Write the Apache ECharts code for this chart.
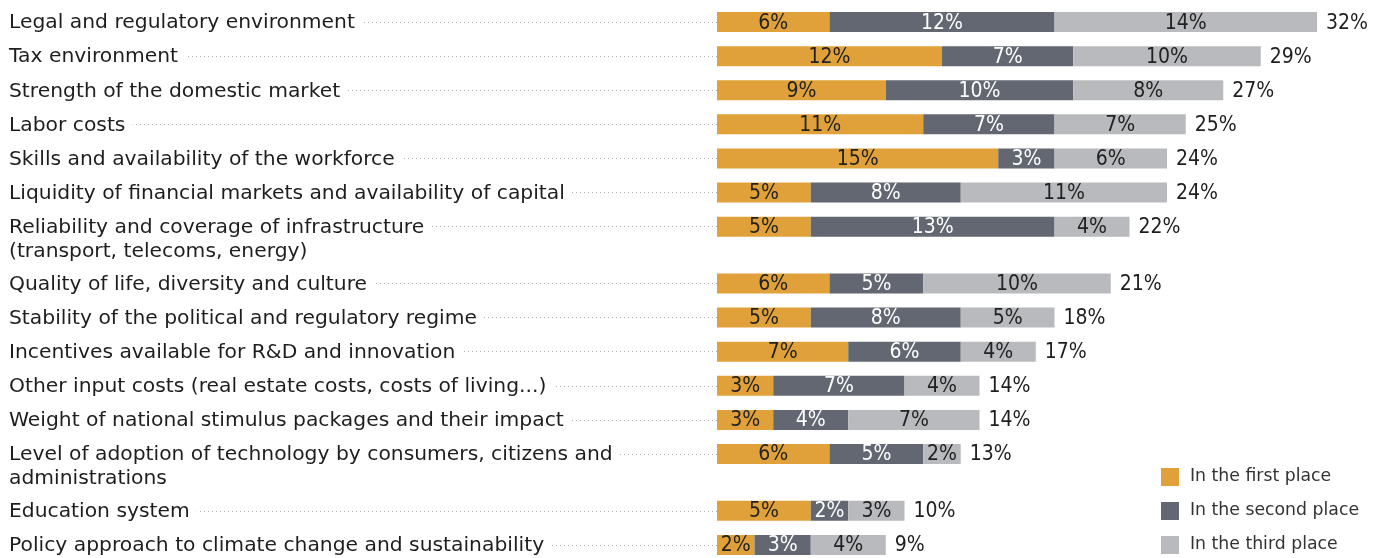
<!DOCTYPE html>
<html>
<head>
<meta charset="utf-8">
<script src="https://cdn.jsdelivr.net/npm/echarts@6/dist/echarts.min.js"></script>
<style>
html,body{margin:0;padding:0;background:#fff;}
#chart{width:1383px;height:558px;}
</style>
</head>
<body>
<div id="chart"></div>
<script>
const categories = [
  'Legal and regulatory environment',
  'Tax environment',
  'Strength of the domestic market',
  'Labor costs',
  'Skills and availability of the workforce',
  'Liquidity of financial markets and availability of capital',
  'Reliability and coverage of infrastructure\n(transport, telecoms, energy)',
  'Quality of life, diversity and culture',
  'Stability of the political and regulatory regime',
  'Incentives available for R&D and innovation',
  'Other input costs (real estate costs, costs of living...)',
  'Weight of national stimulus packages and their impact',
  'Level of adoption of technology by consumers, citizens and\nadministrations',
  'Education system',
  'Policy approach to climate change and sustainability'
];
const seriesNames = ['In the first place', 'In the second place', 'In the third place'];
const firstPlace  = [6, 12, 9, 11, 15, 5, 5, 6, 5, 7, 3, 3, 6, 5, 2];
const secondPlace = [12, 7, 10, 7, 3, 8, 13, 5, 8, 6, 7, 4, 5, 2, 3];
const thirdPlace  = [14, 10, 8, 7, 6, 11, 4, 10, 5, 4, 4, 7, 2, 3, 4];

// Layout slots: each row gets spacer slots around it; wrapped labels get extra room.
const slots = [];
const rowSlot = [];
categories.forEach((c, i) => {
  slots.push('_sp' + slots.length);
  rowSlot.push(slots.length);
  slots.push(c);
  slots.push('_sp' + slots.length);
  if (c.indexOf('\n') >= 0) {
    slots.push('_sp' + slots.length);
    slots.push('_sp' + slots.length);
  }
});
const realIdx = new Set(rowSlot);
function toSlots(arr) {
  const out = slots.map(() => '-');
  rowSlot.forEach((s, i) => { out[s] = arr[i]; });
  return out;
}
const totals = categories.map((c, i) => firstPlace[i] + secondPlace[i] + thirdPlace[i]);

const FONT = 'DejaVu Sans';
const NUMFONT = '"DejaVu Sans Condensed", "DejaVu Sans"';
const chart = echarts.init(document.getElementById('chart'));
function barSeries(name, data, color, labelColor) {
  return {
    name: name, type: 'bar', stack: 'total', barWidth: 20,
    data: toSlots(data),
    itemStyle: { color: color },
    label: { show: true, position: 'inside', formatter: '{c}%', color: labelColor, fontSize: 21, fontFamily: NUMFONT, offset: [0, 1] },
    emphasis: { disabled: true }
  };
}
chart.setOption({
  animation: false,
  textStyle: { fontFamily: FONT },
  grid: { left: 717, width: 600, top: 5, height: 557, outerBoundsMode: 'none', containLabel: false },
  legend: {
    data: seriesNames, orient: 'vertical', left: 1161, top: 468,
    itemWidth: 18, itemHeight: 18, itemGap: 16, icon: 'rect', padding: 0,
    textStyle: { fontSize: 17.3, color: '#333', fontFamily: FONT, padding: [0, 0, 0, 6] }
  },
  xAxis: { type: 'value', min: 0, max: 32, show: false },
  yAxis: {
    type: 'category', data: slots, inverse: true, offset: 5,
    axisLine: { show: false },
    axisTick: {
      show: true, alignWithLabel: true, length: 690,
      interval: (idx) => realIdx.has(idx),
      lineStyle: { color: '#b0b0b0', type: [1, 3], width: 1 }
    },
    axisLabel: {
      show: true, align: 'left', margin: 703,
      interval: (idx) => realIdx.has(idx),
      formatter: (v) => {
        if (v.indexOf('\n') >= 0) {
          return '{s| }\n' + v.split('\n').map(l => '{t|' + l + '}').join('\n');
        }
        return '{t|' + v + '}';
      },
      rich: {
        s: { fontSize: 20.3, lineHeight: 24 },
        t: { fontSize: 20.3, lineHeight: 24, color: '#1e1e1e', backgroundColor: '#fff', padding: [2, 7, 0, 0], fontFamily: FONT }
      }
    }
  },
  series: [
    barSeries(seriesNames[0], firstPlace, '#E0A13A', '#222'),
    barSeries(seriesNames[1], secondPlace, '#626771', '#fff'),
    barSeries(seriesNames[2], thirdPlace, '#B8BABD', '#222'),
    {
      type: 'scatter', symbolSize: 0, silent: true,
      itemStyle: { opacity: 1 },
      data: rowSlot.map((s, i) => [totals[i], s]),
      label: { show: true, position: 'right', distance: 9, offset: [0, 1], formatter: (p) => p.value[0] + '%', color: '#1e1e1e', opacity: 1, fontSize: 21, fontFamily: NUMFONT }
    }
  ]
});
</script>
</body>
</html>
